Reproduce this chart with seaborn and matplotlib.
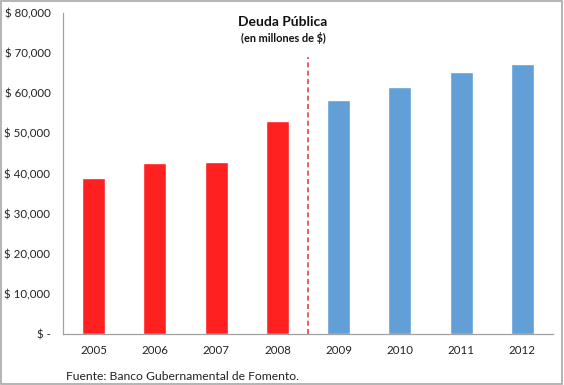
import matplotlib
matplotlib.use("Agg")
import matplotlib.pyplot as plt
import seaborn as sns
import pandas as pd
import numpy as np
from matplotlib.patches import Rectangle

years = ["2005", "2006", "2007", "2008", "2009", "2010", "2011", "2012"]
deuda = [39000, 42600, 42800, 53000, 58300, 61600, 65300, 67200]
periodo = ["antes", "antes", "antes", "antes", "despues", "despues", "despues", "despues"]
ytick_vals = [0, 10000, 20000, 30000, 40000, 50000, 60000, 70000, 80000]
ytick_labels = ["$ -", "$ 10,000", "$ 20,000", "$ 30,000", "$ 40,000",
                "$ 50,000", "$ 60,000", "$ 70,000", "$ 80,000"]

df = pd.DataFrame({"year": years, "deuda": deuda, "periodo": periodo})

sns.set_style("white")
plt.rcParams['font.family'] = ['Lato', 'DejaVu Sans']

fig = plt.figure(figsize=(5.64, 3.85), dpi=100)
ax = fig.add_axes([63/564, 1-334/385, (553-63)/564, (334-13)/385])

sns.barplot(data=df, x="year", y="deuda", hue="periodo", dodge=False,
            palette={"antes": "#FF2020", "despues": "#619FD6"},
            width=0.375, ax=ax, legend=False, saturation=1)

ax.set_xlim(-0.5, 7.5)
ax.set_ylim(0, 80000)
ax.set_yticks(ytick_vals)
ax.set_yticklabels(ytick_labels, fontsize=8.3, color="#222222")
ax.set_xlabel("")
ax.set_ylabel("")
for lab in ax.get_xticklabels():
    lab.set_fontsize(8.3)
    lab.set_color("#222222")
ax.tick_params(axis="x", which="major", length=0, pad=8)
ax.set_xticks(np.arange(-0.5, 8.0, 1.0), minor=True)
ax.tick_params(axis="x", which="minor", length=4, color="#A0A0A0", direction="out")
ax.tick_params(axis="y", which="major", length=4, color="#A0A0A0", direction="out", pad=5)
for s in ["top", "right"]:
    ax.spines[s].set_visible(False)
for s in ["left", "bottom"]:
    ax.spines[s].set_color("#A0A0A0")
    ax.spines[s].set_linewidth(0.9)

ax.plot([3.5, 3.5], [0, 69000], linestyle=(0, (3, 2)), color="#D8474A", linewidth=1.2)

fig.text(283/564, 1-22/385, "Deuda Pública", ha="center", va="center",
         fontsize=10, fontweight="bold", color="#111111")
fig.text(283/564, 1-38/385, "(en millones de $)", ha="center", va="center",
         fontsize=7.9, fontweight="bold", color="#111111")
fig.text(66/564, 1-376/385, "Fuente: Banco Gubernamental de Fomento.", ha="left",
         va="center", fontsize=8.7, color="#222222")

fig.patches.append(Rectangle((0.002, 0.003), 0.995, 0.994, transform=fig.transFigure,
                             fill=False, edgecolor="#A8A8A8", linewidth=1.2))

fig.savefig("out.png", dpi=100)
